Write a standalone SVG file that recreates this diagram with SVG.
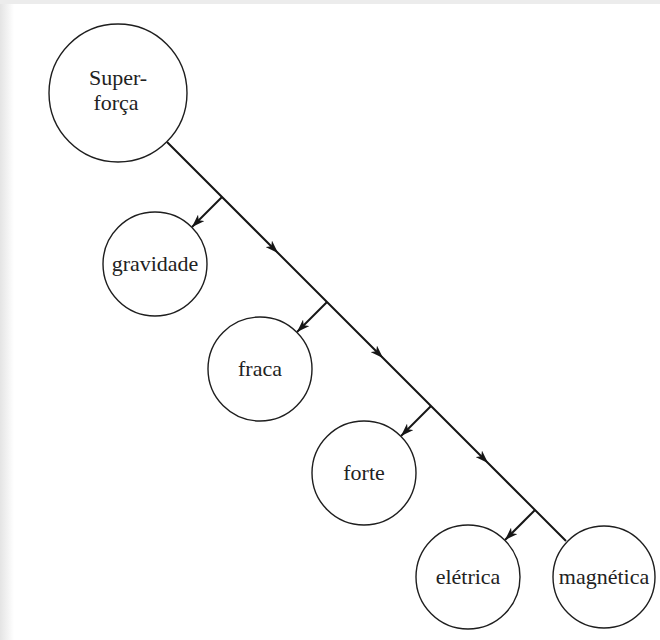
<svg xmlns="http://www.w3.org/2000/svg" width="660" height="640" viewBox="0 0 660 640">
  <style>
    .node circle { fill: #ffffff; stroke: #1e1e1e; stroke-width: 1.4; }
    .node text { font-family: "Liberation Serif", "Times New Roman", "DejaVu Serif", serif; font-size: 22px; fill: #222222; text-anchor: middle; }
    .edge { fill: none; stroke: #161616; stroke-width: 2; }
  </style>
  <defs>
    <marker id="arrow" viewBox="0 0 13 9" refX="13" refY="4.5" markerWidth="13" markerHeight="9" markerUnits="userSpaceOnUse" orient="auto">
      <path d="M0,0 L13,4.5 L0,9 L3.5,4.5 Z" fill="#161616"/>
    </marker>
    <linearGradient id="edgeShade" x1="0" y1="0" x2="1" y2="0">
      <stop offset="0" stop-color="#e4e4e4"/>
      <stop offset="1" stop-color="#ffffff"/>
    </linearGradient>
  </defs>

  <!-- page background with a faint frame on the top and left -->
  <rect x="0" y="0" width="660" height="640" fill="#ffffff"/>
  <rect x="0" y="4" width="14" height="636" fill="url(#edgeShade)"/>
  <rect x="0" y="0" width="660" height="4" fill="#ececec"/>

  <!-- connectors -->
  <g id="connectors">
    <!-- trunk from Super-força down to magnética, arrows along the way -->
    <path class="edge" d="M167,142 L278,253 L383,358 L488,463 L566,541" marker-mid="url(#arrow)"/>
    <!-- side branches -->
    <line class="edge" x1="222" y1="197" x2="192" y2="227" marker-end="url(#arrow)"/>
    <line class="edge" x1="327" y1="302" x2="297" y2="332" marker-end="url(#arrow)"/>
    <line class="edge" x1="431" y1="406" x2="401" y2="436" marker-end="url(#arrow)"/>
    <line class="edge" x1="535" y1="510" x2="505" y2="540" marker-end="url(#arrow)"/>
  </g>

  <g id="superforca" class="node">
    <circle cx="118" cy="93" r="69"/>
    <text x="118" y="85">Super-</text>
    <text x="116" y="110">força</text>
  </g>

  <g id="gravidade" class="node">
    <circle cx="155" cy="264" r="52"/>
    <text x="155" y="271">gravidade</text>
  </g>

  <g id="fraca" class="node">
    <circle cx="260" cy="369" r="52"/>
    <text x="260" y="376">fraca</text>
  </g>

  <g id="forte" class="node">
    <circle cx="364" cy="473" r="52"/>
    <text x="364" y="480">forte</text>
  </g>

  <g id="eletrica" class="node">
    <circle cx="468" cy="577" r="52"/>
    <text x="468" y="584">elétrica</text>
  </g>

  <g id="magnetica" class="node">
    <circle cx="604" cy="577" r="51"/>
    <text x="604" y="584">magnética</text>
  </g>
</svg>
